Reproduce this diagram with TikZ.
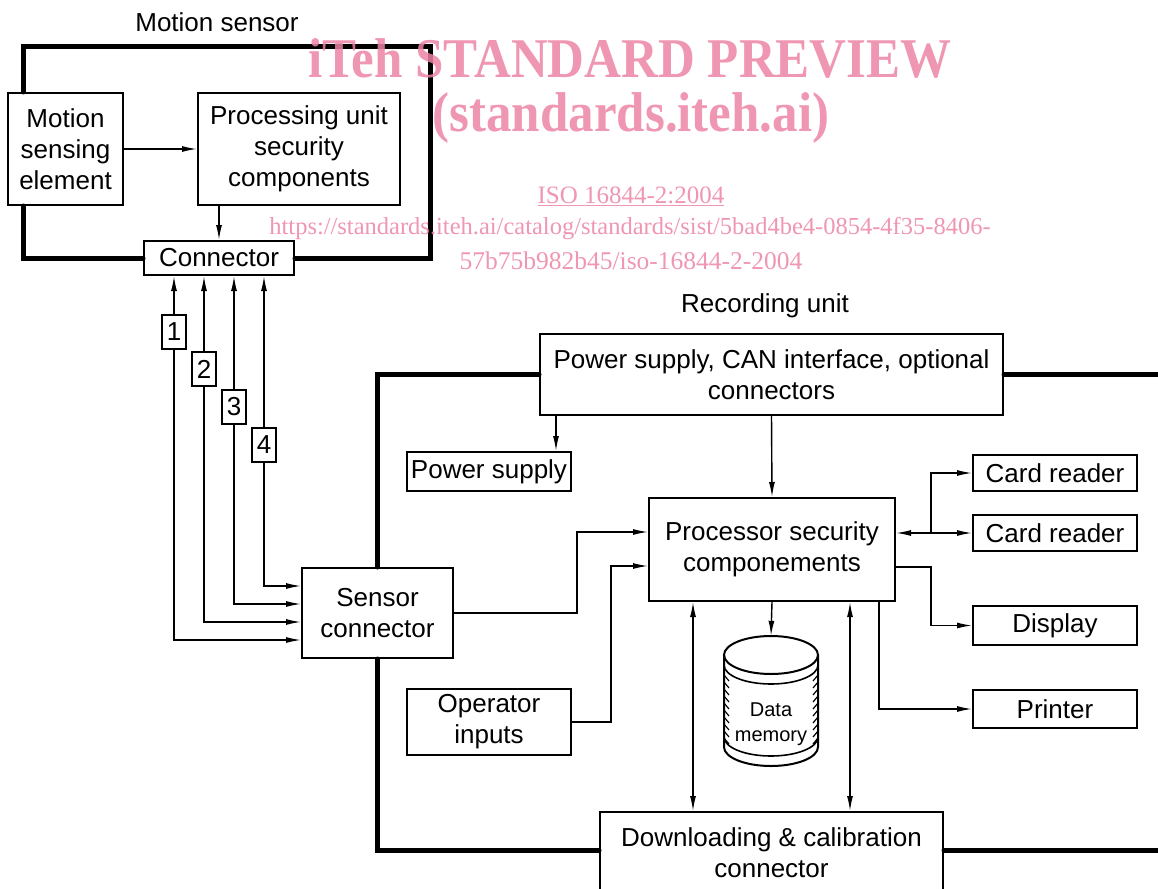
\documentclass[tikz,border=0pt]{standalone}
\usepackage{fontspec}
\setmainfont{Liberation Sans}
\newfontfamily\wmfont{Liberation Serif}
\usetikzlibrary{arrows.meta, calc}
\definecolor{wmpink}{RGB}{236,132,164}

\begin{document}
\begin{tikzpicture}[x = 1pt, y = -1pt,
        every node/.style = {font = \fontsize{26}{31}\selectfont, inner sep = 0pt, align = center},
        box/.style = {draw, line width = 2pt, fill = white},
        arr/.style = {line width = 1.4pt, -{Latex[length = 15pt, width = 6pt]}},
        biarr/.style = {line width = 1.4pt, {Latex[length = 15pt, width = 6pt]}-{Latex[length = 15pt, width = 6pt]}},
        frame/.style = {line width = 5pt, line cap = round},
        wm/.style = {text = wmpink, opacity = 0.85}]
    \useasboundingbox (0,0) rectangle (1158,888);

    % motion sensor
    \node (mstitle) at (217,22) {Motion sensor};
    \node[box, minimum width = 115, minimum height = 112] (mse) at (65.5,149) {Motion\\sensing\\element};
    \node[box, minimum width = 202, minimum height = 112] (pu) at (299,149) {Processing unit\\security\\components};
    \node[box, minimum width = 150, minimum height = 34] (conn) at (219,258) {Connector};
    \coordinate (msTR) at (430,47);
    \draw[frame] ($(mse.north)+(-42.5,0)$) |- (msTR) |- (conn.east);
    \draw[frame] ($(mse.south)+(-42.5,0)$) |- (conn.west);
    \draw[arr] (mse.east) -- (pu.west);
    \draw[arr] (pu.south -| conn.north) -- (conn.north);

    % recording unit
    \node (rutitle) at (765,306) {Recording unit};
    \node[box, minimum width = 151, minimum height = 90] (sens) at (377.5,613) {Sensor\\connector};
    \node[box, minimum width = 463, minimum height = 81] (can) at (771.5,374.5) {Power supply, CAN interface, optional\\connectors};
    \node[box, minimum width = 164, minimum height = 39] (psu) at (489,471.5) {Power supply};
    \node[box, minimum width = 246, minimum height = 103] (proc) at (772,549.5) {Processor security\\componements};
    \node[box, minimum width = 164, minimum height = 66] (opin) at (489,722) {Operator\\inputs};
    \node[box, minimum width = 343, minimum height = 82] (dl) at (771.5,853) {Downloading \& calibration\\connector};
    \node[box, minimum width = 164, minimum height = 36] (cr1) at (1055,473) {Card reader};
    \node[box, minimum width = 164, minimum height = 36] (cr2) at (1055,533) {Card reader};
    \node[box, minimum width = 164, minimum height = 39] (disp) at (1055,625.5) {Display};
    \node[box, minimum width = 164, minimum height = 38] (prn) at (1055,709) {Printer};
    \node[minimum width = 94, minimum height = 130] (mem) at (771,701) {};
    \node[font = \fontsize{20}{25}\selectfont] (memtext) at ($(mem.center)+(0,23)$) {Data\\memory};

    \draw[frame] (sens.north) |- (can.west);
    \draw[frame] (can.east) -- ++(170,0);
    \draw[frame] (sens.south) |- ($(dl.west)+(0,-3)$);
    \draw[frame] ($(dl.east)+(0,-3)$) -- ++(230,0);

    % data memory
    \draw[line width = 2pt] ($(mem.center)+(0,-46)$) ellipse [x radius = 47, y radius = 19];
    \draw[line width = 2pt] ($(mem.center)+(-47,-46)$) -- ($(mem.center)+(-47,46)$)
        arc [start angle = 180, end angle = 0, x radius = 47, y radius = 19] -- ($(mem.center)+(47,-46)$);
    \draw[line width = 1.6pt] ($(mem.center)+(-47,-36)$) arc [start angle = 180, end angle = 0, x radius = 47, y radius = 19];
    \draw[line width = 1.6pt] ($(mem.center)+(-47,36)$) arc [start angle = 180, end angle = 0, x radius = 47, y radius = 19];
    \foreach \k in {0,...,9} {
        \draw[line width = 1.2pt] ($(mem.center)+(-47,-26+7*\k)$) -- ++(5,6);
        \draw[line width = 1.2pt] ($(mem.center)+(47,-26+7*\k)$) -- ++(-5,6);
    }

    % sensor lines
    \node[box, minimum width = 24, minimum height = 34] (n1) at (174,331.5) {1};
    \node[box, minimum width = 24, minimum height = 34] (n2) at (204,369) {2};
    \node[box, minimum width = 24, minimum height = 34] (n3) at (234,407) {3};
    \node[box, minimum width = 24, minimum height = 34] (n4) at (264,445) {4};
    \draw[arr] (n1) -- (conn.south -| n1);
    \draw[arr] (n1) |- ($(sens.west)+(0,27)$);
    \draw[arr] (n2) -- (conn.south -| n2);
    \draw[arr] (n2) |- ($(sens.west)+(0,9)$);
    \draw[arr] (n3) -- (conn.south -| n3);
    \draw[arr] (n3) |- ($(sens.west)+(0,-9)$);
    \draw[arr] (n4) -- (conn.south -| n4);
    \draw[arr] (n4) |- ($(sens.west)+(0,-27)$);

    % recording unit connections
    \coordinate (pa) at ($(psu.north)+(67,0)$);
    \draw[arr] (can.south -| pa) -- (pa);
    \draw[arr] (can.south) -- (proc.north);
    \draw[arr] (sens.east) -- ++(123,0) |- ($(proc.west)+(0,-17.5)$);
    \draw[arr] (opin.east) -- ++(39,0) |- ($(proc.west)+(0,16.5)$);
    \draw[arr] (proc.south) -- (mem.north);
    \draw[biarr] ($(proc.south)+(-79,0)$) -- ($(dl.north)+(-78.5,0)$);
    \draw[biarr] ($(proc.south)+(78,0)$) -- ($(dl.north)+(78.5,0)$);
    \coordinate (jn) at ($(cr2.west)+(-41,0)$);
    \draw[arr] (jn) -- (proc.east |- jn);
    \draw[arr] (jn) |- (cr1.west);
    \draw[arr] (jn) -- (cr2.west);
    \draw[arr] ($(proc.east)+(0,17.5)$) -| ($(disp.west)+(-41,0)$) -- (disp.west);
    \draw[arr] ($(proc.south)+(107,0)$) |- (prn.west);

    % watermark
    \node[wm, font = \wmfont\bfseries\fontsize{51}{51}\selectfont] (wmtitle) at (630,58) {\scalebox{1}[1.1]{iTeh STANDARD PREVIEW}};
    \node[wm, font = \wmfont\bfseries\fontsize{51}{51}\selectfont] (wmsite) at (631,118) {\scalebox{1}[1.1]{(standards.iteh.ai)}};
    \node[wm, font = \wmfont\fontsize{25}{25}\selectfont] (wmiso) at (631,196) {\underline{ISO 16844-2:2004}};
    \node[wm, font = \wmfont\fontsize{24.5}{24.5}\selectfont] (wmurl) at (630,229) {https://standards.iteh.ai/catalog/standards/sist/5bad4be4-0854-4f35-8406-};
    \node[wm, font = \wmfont\fontsize{25.5}{25.5}\selectfont] (wmurlb) at (631,261) {57b75b982b45/iso-16844-2-2004};
\end{tikzpicture}
\end{document}
